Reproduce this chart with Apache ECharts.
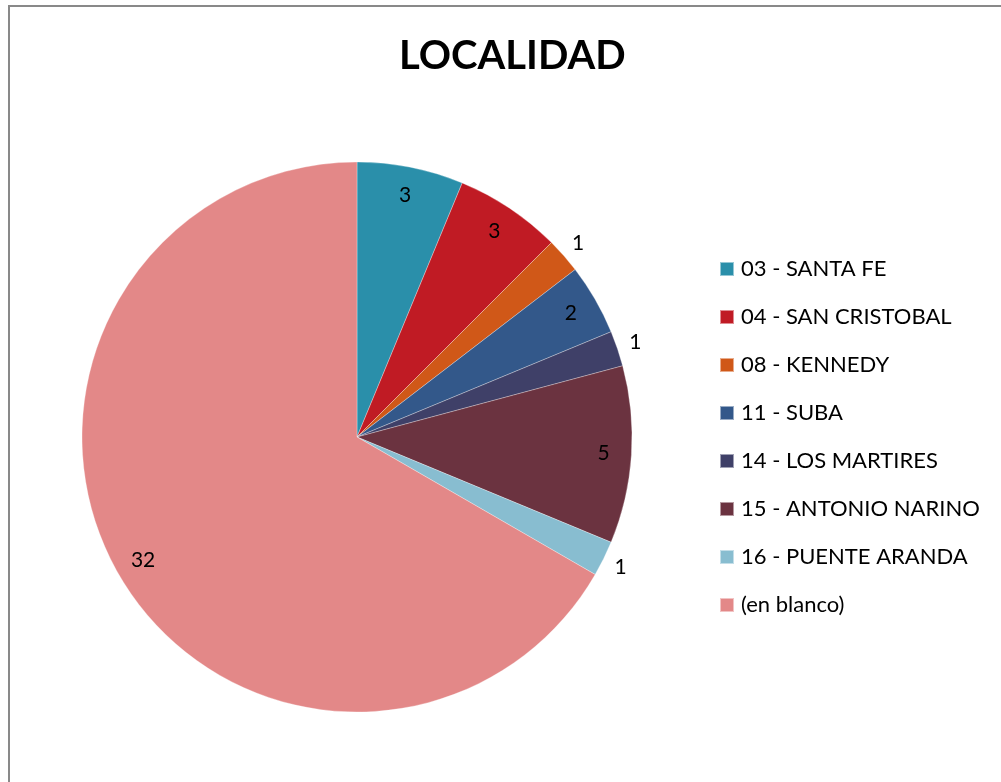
<!DOCTYPE html>
<html><head><meta charset="utf-8">
<script src="https://cdn.jsdelivr.net/npm/echarts@6/dist/echarts.min.js"></script>
<style>
html,body{margin:0;padding:0;background:#fff;overflow:hidden}
#c{width:1001px;height:782px;position:absolute;left:0;top:0}
#frame{position:absolute;left:8px;top:5px;width:1100px;height:900px;border-left:2px solid #898989;border-top:2px solid #898989;pointer-events:none}
</style></head>
<body><div id="c"></div><div id="frame"></div>
<script>
const title = 'LOCALIDAD';
const categories = ['03 - SANTA FE','04 - SAN CRISTOBAL','08 - KENNEDY','11 - SUBA','14 - LOS MARTIRES','15 - ANTONIO NARINO','16 - PUENTE ARANDA','(en blanco)'];
const values = [3, 3, 1, 2, 1, 5, 1, 32];
const colors = ['#2A8FAA','#C01B24','#D05818','#33588A','#3F4068','#6B3340','#88BDD0','#E38888'];
// which labels sit outside the pie (small slices)
const outsideLabel = [false, false, true, false, true, false, true, false];

const font = 'Lato, "Open Sans", sans-serif';
const chart = echarts.init(document.getElementById('c'), null, {renderer:'canvas'});
const center = [357, 437];
const R = 275;

const mainData = categories.map((n,i)=>({name:n, value:values[i], itemStyle:{color:colors[i]}}));
const labelSeries = (show, radius) => ({
  type:'pie', center, radius, silent:true, startAngle:90, clockwise:true,
  avoidLabelOverlap:false, legendHoverLink:false,
  itemStyle:{color:'rgba(0,0,0,0)', borderWidth:0},
  emphasis:{disabled:true}, labelLine:{show:false},
  label:{show:true, position:'inside', color:'#000', fontFamily:font, fontSize:21,
    formatter:p=> show[p.dataIndex] ? String(p.value) : ''},
  data: categories.map((n,i)=>({name:n, value:values[i]}))
});

chart.setOption({
  animation:false,
  title:{text:title, left:399, top:36, padding:0,
    textStyle:{fontFamily:font, fontWeight:'bold', fontSize:40, color:'#000'}},
  legend:{orient:'vertical', left:719, top:258, padding:0, itemWidth:14, itemHeight:14, itemGap:26,
    icon:'rect', textStyle:{fontFamily:font, fontSize:22, color:'#000', padding:[0,0,0,2]},
    data:categories.map((n,i)=>({name:n, itemStyle:{color:colors[i]}})) },
  series:[
    {type:'pie', center, radius:[0,R], startAngle:90, clockwise:true, silent:true,
     itemStyle:{borderColor:'rgba(255,255,255,0.5)', borderWidth:0.6},
     label:{show:false}, labelLine:{show:false}, emphasis:{disabled:true},
     data:mainData},
    labelSeries(outsideLabel.map(v=>!v), [214, 274]),
    labelSeries(outsideLabel, [279, 303])
  ]
});
</script></body></html>
